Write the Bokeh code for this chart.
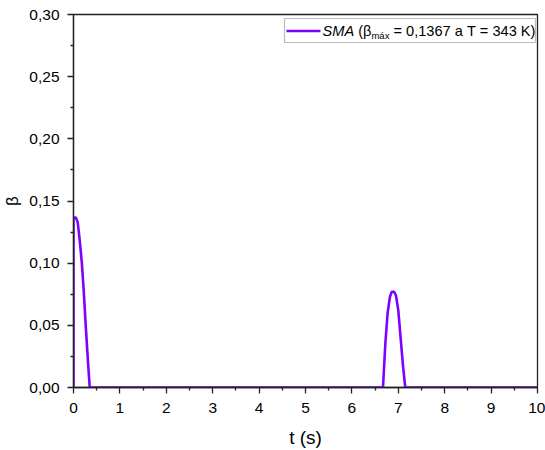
from bokeh.plotting import figure
from bokeh.models import (Range1d, FixedTicker, CustomJSTickFormatter, Label,
                          BoxAnnotation, ColumnDataSource)
from bokeh.embed import file_html
from bokeh.resources import INLINE

# data
t = [0.0, 0.0, 0.05, 0.09, 0.13, 0.18, 0.22, 0.265, 0.31, 0.35,
     6.67, 6.72, 6.77, 6.82, 6.86, 6.91, 6.95, 7.0, 7.05, 7.10, 7.15, 10.0]
beta = [0.0, 0.1367, 0.1367, 0.133, 0.120, 0.100, 0.078, 0.049, 0.022, 0.0,
        0.0, 0.035, 0.060, 0.073, 0.077, 0.077, 0.074, 0.062, 0.040, 0.018, 0.0, 0.0]
x_ticks = [0, 1, 2, 3, 4, 5, 6, 7, 8, 9, 10]
y_ticks = [0.0, 0.05, 0.10, 0.15, 0.20, 0.25, 0.30]
NB = "\u00a0"
legend_parts = ["SMA", NB + "(β", "máx", NB + "=" + NB + "0,1367" + NB + "a" + NB + "T" + NB + "=" + NB + "343" + NB + "K)"]

COLOR = "#8000ff"
FONT = "Liberation Sans"

p = figure(width=545, height=450, output_backend="svg", toolbar_location=None,
           x_range=Range1d(0, 10), y_range=Range1d(0, 0.30),
           min_border_left=73, min_border_right=8, min_border_top=14,
           min_border_bottom=63)
p.background_fill_color = "white"
p.border_fill_color = "white"
p.grid.visible = False
p.outline_line_color = "#222222"
p.outline_line_width = 1.3

src = ColumnDataSource(dict(t=t, beta=beta))
p.line("t", "beta", source=src, line_color=COLOR, line_width=2.6)

for ax in (p.xaxis[0], p.yaxis[0]):
    ax.axis_line_color = "#222222"
    ax.axis_line_width = 1.3
    ax.major_tick_line_color = "#222222"
    ax.minor_tick_line_color = "#222222"
    ax.major_tick_line_width = 1.3
    ax.minor_tick_line_width = 1.3
    ax.major_tick_out = 6
    ax.major_tick_in = 0
    ax.minor_tick_out = 3
    ax.minor_tick_in = 0
    ax.major_label_text_font = FONT
    ax.major_label_text_font_size = "15.5px"
    ax.major_label_text_color = "black"
    ax.axis_label_text_font = FONT
    ax.axis_label_text_font_style = "normal"
    ax.axis_label_text_color = "black"

p.xaxis.ticker = FixedTicker(ticks=x_ticks, minor_ticks=[v + 0.5 for v in x_ticks[:-1]])
p.yaxis.ticker = FixedTicker(ticks=y_ticks, minor_ticks=[v + 0.025 for v in y_ticks[:-1]])
p.yaxis.formatter = CustomJSTickFormatter(code="return tick.toFixed(2).replace('.', ',');")
p.xaxis.formatter = CustomJSTickFormatter(code="return tick.toFixed(0);")
p.xaxis.axis_label = "t (s)"
p.yaxis.axis_label = "β"
p.xaxis.axis_label_text_font_size = "19px"
p.yaxis.axis_label_text_font_size = "17px"
p.xaxis.major_label_standoff = 9
p.xaxis.axis_label_standoff = 11
p.yaxis.major_label_standoff = 8
p.yaxis.axis_label_standoff = 4

# manual legend (mixed italic / subscript text)
px = 10.0 / 464.0      # data units per pixel, x
py = 0.30 / 373.0      # data units per pixel, y
left_px, right_px, top_px, bottom_px = 211, 462, 4, 28   # relative to frame left/top
box = BoxAnnotation(left=left_px * px, right=right_px * px,
                    top=0.30 - top_px * py, bottom=0.30 - bottom_px * py,
                    fill_color="white", fill_alpha=1.0,
                    line_color="#222222", line_width=1.2, level="underlay")
p.add_layout(box)
ly = 0.30 - 16.5 * py
p.line(x=[213 * px, 247 * px], y=[ly, ly], line_color=COLOR, line_width=2.6)

fs = 14.6
fs_sub = 9.5
w_sma = 2.167 * fs
w_beta = 1.186 * fs
w_sub = 1.889 * fs_sub
x0 = 249
positions = [x0, x0 + w_sma, x0 + w_sma + w_beta, x0 + w_sma + w_beta + w_sub]
styles = ["italic", "normal", "normal", "normal"]
sizes = [fs, fs, fs_sub, fs]
yoff = [0, 0, -4, 0]
for txt, xp, st, sz, yo in zip(legend_parts, positions, styles, sizes, yoff):
    p.add_layout(Label(x=xp * px, y=ly + yo * py, text=txt,
                       text_font=FONT, text_font_size=f"{sz}px",
                       text_font_style=st, text_color="black",
                       text_baseline="middle", text_align="left"))

open("out.html", "w").write(file_html(p, INLINE))
